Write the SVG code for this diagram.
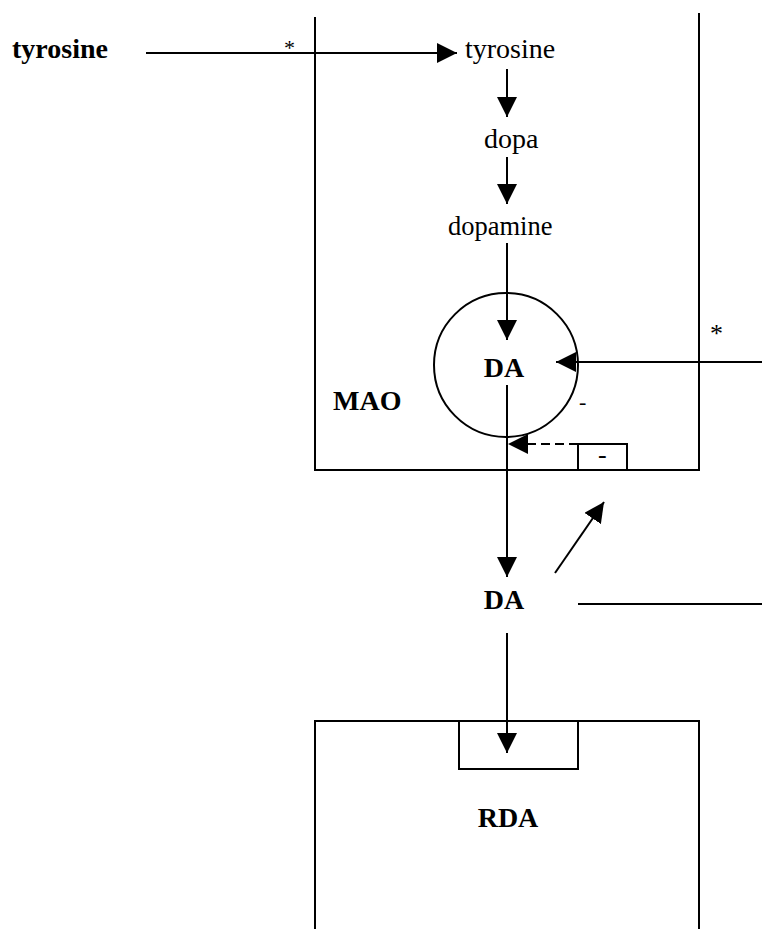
<svg xmlns="http://www.w3.org/2000/svg" width="762" height="929" viewBox="0 0 762 929">
<style>
  .ln{stroke:#000;stroke-width:2;fill:none}
  .bx{stroke:#000;stroke-width:2;fill:none}
  .t{font-family:"Liberation Serif","Times New Roman",serif;fill:#000}
  .b{font-weight:bold}
</style>
<defs>
  <marker id="ah" markerUnits="userSpaceOnUse" markerWidth="20" markerHeight="20" refX="20" refY="10" orient="auto" viewBox="0 0 20 20">
    <path d="M0,0 L20,10 L0,20 z" fill="#000" stroke="none"/>
  </marker>
</defs>
<rect width="762" height="929" fill="#fff"/>

<g id="presynaptic-cell">
  <path class="bx" d="M315,17 V470 H699 V13"/>
</g>
<g id="autoreceptor">
  <rect class="bx" x="578" y="444" width="49" height="26"/>
  <text class="t" x="598" y="463" font-size="26">-</text>
</g>
<g id="vesicle">
  <circle class="bx" cx="506" cy="365" r="72"/>
  <text class="t b" x="504" y="377" font-size="28" text-anchor="middle">DA</text>
</g>
<g id="postsynaptic-cell">
  <path class="bx" d="M315,929 V721 H699 V929"/>
  <rect class="bx" x="459" y="721" width="119" height="48"/>
  <text class="t b" x="508" y="827" font-size="28" text-anchor="middle">RDA</text>
</g>
<g id="tyrosine-ext"><text class="t b" x="12" y="58" font-size="28">tyrosine</text></g>
<g id="tyrosine-int"><text class="t" x="465" y="58" font-size="28">tyrosine</text></g>
<g id="dopa"><text class="t" x="484" y="148" font-size="28">dopa</text></g>
<g id="dopamine"><text class="t" x="448" y="235" font-size="26.5">dopamine</text></g>
<g id="mao"><text class="t b" x="333" y="410" font-size="28">MAO</text></g>
<g id="da-cleft"><text class="t b" x="504" y="609" font-size="28" text-anchor="middle">DA</text></g>

<g id="connectors">
  <line class="ln" x1="146" y1="53" x2="457" y2="53" marker-end="url(#ah)"/>
  <text class="t" x="284" y="55" font-size="22">*</text>
  <line class="ln" x1="507" y1="69" x2="507" y2="117" marker-end="url(#ah)"/>
  <line class="ln" x1="507" y1="157" x2="507" y2="204" marker-end="url(#ah)"/>
  <line class="ln" x1="507" y1="243" x2="507" y2="340" marker-end="url(#ah)"/>
  <line class="ln" x1="762" y1="362" x2="556" y2="362" marker-end="url(#ah)"/>
  <text class="t" x="710" y="342" font-size="26">*</text>
  <text class="t" x="579" y="409" font-size="22">-</text>
  <line class="ln" x1="578" y1="444" x2="508" y2="444" stroke-dasharray="9 5" marker-end="url(#ah)"/>
  <line class="ln" x1="507" y1="385" x2="507" y2="577" marker-end="url(#ah)"/>
  <line class="ln" x1="555" y1="573" x2="604" y2="502" marker-end="url(#ah)"/>
  <line class="ln" x1="578" y1="604" x2="762" y2="604"/>
  <line class="ln" x1="507" y1="633" x2="507" y2="753" marker-end="url(#ah)"/>
</g>
</svg>
